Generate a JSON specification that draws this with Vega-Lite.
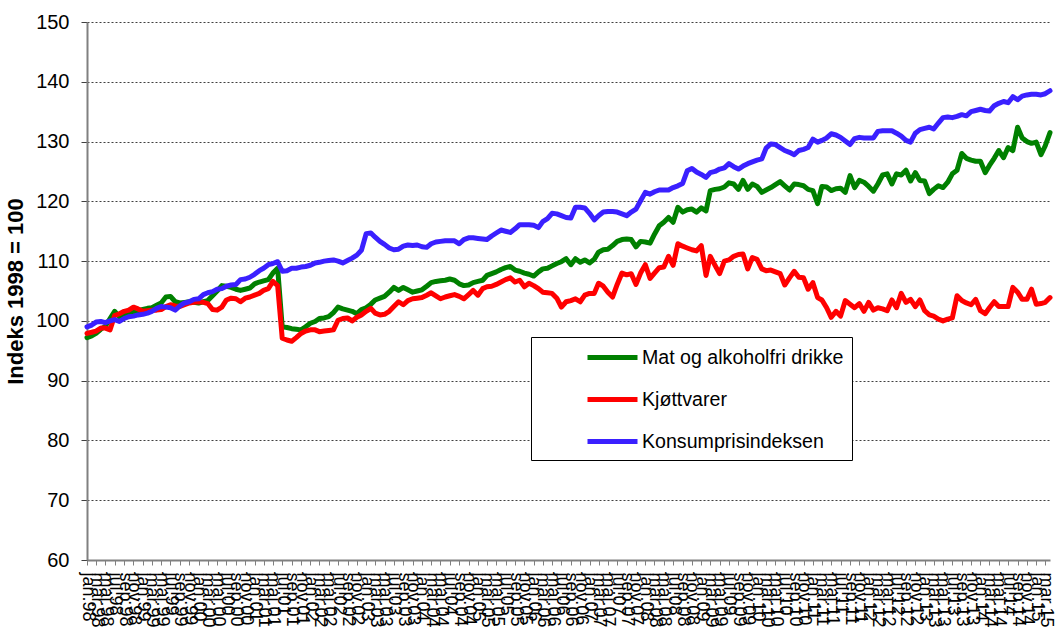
{
 "$schema": "https://vega.github.io/schema/vega-lite/v6.json",
 "width": 963, "height": 538,
 "autosize": "none",
 "padding": {"left": 87, "top": 22, "right": 6, "bottom": 79},
 "background": "white",
 "config": {"font": "Liberation Sans", "view": {"stroke": null}},
 "data": {"format": {"parse": {"d": "utc:'%Y-%m'"}}, "values": [
{"d":"1998-01","m":97.2,"k":97.9,"p":99.0},{"d":"1998-02","m":97.5,"k":98.1,"p":99.3},{"d":"1998-03","m":97.9,"k":98.3,"p":99.8},{"d":"1998-04","m":98.6,"k":98.8,"p":99.9},{"d":"1998-05","m":99.1,"k":98.8,"p":99.7},{"d":"1998-06","m":100.4,"k":98.5,"p":100.0},{"d":"1998-07","m":101.6,"k":100.9,"p":100.2},{"d":"1998-08","m":100.7,"k":101.2,"p":99.9},{"d":"1998-09","m":100.9,"k":101.6,"p":100.4},{"d":"1998-10","m":101.3,"k":101.8,"p":100.7},{"d":"1998-11","m":101.5,"k":102.3,"p":100.8},{"d":"1998-12","m":101.7,"k":102.0,"p":101.0},
{"d":"1999-01","m":101.9,"k":101.6,"p":101.1},{"d":"1999-02","m":102.1,"k":101.7,"p":101.3},{"d":"1999-03","m":102.2,"k":101.8,"p":101.6},{"d":"1999-04","m":102.6,"k":101.8,"p":102.1},{"d":"1999-05","m":103.0,"k":101.9,"p":102.4},{"d":"1999-06","m":104.0,"k":102.4,"p":102.3},{"d":"1999-07","m":104.1,"k":102.7,"p":102.2},{"d":"1999-08","m":103.2,"k":102.5,"p":101.8},{"d":"1999-09","m":103.0,"k":102.4,"p":102.5},{"d":"1999-10","m":103.1,"k":102.7,"p":103.0},{"d":"1999-11","m":103.2,"k":103.0,"p":103.2},{"d":"1999-12","m":103.1,"k":103.1,"p":103.6},
{"d":"2000-01","m":103.0,"k":103.2,"p":103.7},{"d":"2000-02","m":103.2,"k":103.1,"p":104.4},{"d":"2000-03","m":103.4,"k":102.9,"p":104.7},{"d":"2000-04","m":104.2,"k":101.9,"p":104.9},{"d":"2000-05","m":105.0,"k":101.8,"p":105.3},{"d":"2000-06","m":105.9,"k":102.3,"p":105.4},{"d":"2000-07","m":105.8,"k":103.5,"p":105.8},{"d":"2000-08","m":105.6,"k":103.8,"p":106.0},{"d":"2000-09","m":105.3,"k":103.7,"p":106.1},{"d":"2000-10","m":105.1,"k":103.2,"p":106.9},{"d":"2000-11","m":105.3,"k":103.8,"p":107.0},{"d":"2000-12","m":105.5,"k":104.0,"p":107.3},
{"d":"2001-01","m":106.2,"k":104.3,"p":107.8},{"d":"2001-02","m":106.5,"k":104.6,"p":108.4},{"d":"2001-03","m":106.7,"k":105.1,"p":108.8},{"d":"2001-04","m":106.9,"k":105.4,"p":109.4},{"d":"2001-05","m":108.0,"k":106.6,"p":109.6},{"d":"2001-06","m":108.8,"k":105.9,"p":109.9},{"d":"2001-07","m":99.0,"k":97.1,"p":108.3},{"d":"2001-08","m":98.9,"k":96.8,"p":108.4},{"d":"2001-09","m":98.7,"k":96.6,"p":108.8},{"d":"2001-10","m":98.6,"k":97.2,"p":108.8},{"d":"2001-11","m":98.5,"k":97.9,"p":109.0},{"d":"2001-12","m":99.0,"k":98.3,"p":109.1},
{"d":"2002-01","m":99.6,"k":98.5,"p":109.3},{"d":"2002-02","m":99.9,"k":98.5,"p":109.7},{"d":"2002-03","m":100.4,"k":98.2,"p":109.8},{"d":"2002-04","m":100.5,"k":98.3,"p":110.0},{"d":"2002-05","m":100.7,"k":98.4,"p":110.1},{"d":"2002-06","m":101.4,"k":98.5,"p":110.2},{"d":"2002-07","m":102.3,"k":100.1,"p":110.0},{"d":"2002-08","m":102.0,"k":100.4,"p":109.7},{"d":"2002-09","m":101.8,"k":100.5,"p":110.1},{"d":"2002-10","m":101.6,"k":100.0,"p":110.5},{"d":"2002-11","m":101.2,"k":100.6,"p":111.0},{"d":"2002-12","m":101.9,"k":101.0,"p":111.8},
{"d":"2003-01","m":102.2,"k":101.6,"p":114.6},{"d":"2003-02","m":102.8,"k":102.1,"p":114.7},{"d":"2003-03","m":103.5,"k":101.3,"p":114.0},{"d":"2003-04","m":103.8,"k":101.0,"p":113.3},{"d":"2003-05","m":104.1,"k":101.1,"p":112.8},{"d":"2003-06","m":104.8,"k":101.6,"p":112.2},{"d":"2003-07","m":105.6,"k":102.4,"p":111.9},{"d":"2003-08","m":105.1,"k":103.2,"p":112.0},{"d":"2003-09","m":105.6,"k":102.7,"p":112.5},{"d":"2003-10","m":105.2,"k":103.4,"p":112.7},{"d":"2003-11","m":104.8,"k":103.7,"p":112.6},{"d":"2003-12","m":105.0,"k":103.8,"p":112.7},
{"d":"2004-01","m":105.2,"k":103.9,"p":112.4},{"d":"2004-02","m":105.8,"k":104.3,"p":112.3},{"d":"2004-03","m":106.4,"k":104.7,"p":112.9},{"d":"2004-04","m":106.6,"k":104.2,"p":113.2},{"d":"2004-05","m":106.7,"k":103.7,"p":113.3},{"d":"2004-06","m":106.8,"k":104.0,"p":113.4},{"d":"2004-07","m":107.0,"k":104.2,"p":113.4},{"d":"2004-08","m":106.8,"k":104.4,"p":113.4},{"d":"2004-09","m":106.2,"k":104.1,"p":112.9},{"d":"2004-10","m":105.9,"k":103.7,"p":113.6},{"d":"2004-11","m":106.0,"k":104.4,"p":113.9},{"d":"2004-12","m":106.4,"k":105.1,"p":113.9},
{"d":"2005-01","m":106.6,"k":104.3,"p":113.8},{"d":"2005-02","m":106.8,"k":105.4,"p":113.7},{"d":"2005-03","m":107.6,"k":105.7,"p":113.6},{"d":"2005-04","m":107.9,"k":105.8,"p":114.2},{"d":"2005-05","m":108.2,"k":106.1,"p":114.7},{"d":"2005-06","m":108.6,"k":106.5,"p":115.2},{"d":"2005-07","m":108.9,"k":106.9,"p":115.0},{"d":"2005-08","m":109.1,"k":107.2,"p":114.8},{"d":"2005-09","m":108.5,"k":106.5,"p":115.4},{"d":"2005-10","m":108.3,"k":106.8,"p":116.1},{"d":"2005-11","m":108.0,"k":105.7,"p":116.1},{"d":"2005-12","m":107.8,"k":106.3,"p":116.1},
{"d":"2006-01","m":107.5,"k":105.9,"p":116.0},{"d":"2006-02","m":108.2,"k":105.4,"p":115.6},{"d":"2006-03","m":108.7,"k":104.8,"p":116.6},{"d":"2006-04","m":108.8,"k":104.7,"p":117.1},{"d":"2006-05","m":109.2,"k":104.6,"p":118.0},{"d":"2006-06","m":109.6,"k":103.8,"p":117.9},{"d":"2006-07","m":109.9,"k":102.3,"p":117.6},{"d":"2006-08","m":110.4,"k":103.2,"p":117.3},{"d":"2006-09","m":109.4,"k":103.4,"p":117.2},{"d":"2006-10","m":110.4,"k":103.7,"p":119.0},{"d":"2006-11","m":109.8,"k":103.2,"p":119.0},{"d":"2006-12","m":110.2,"k":104.3,"p":118.9},
{"d":"2007-01","m":109.7,"k":104.6,"p":118.0},{"d":"2007-02","m":110.3,"k":104.6,"p":116.9},{"d":"2007-03","m":111.5,"k":106.3,"p":117.6},{"d":"2007-04","m":111.9,"k":105.8,"p":118.2},{"d":"2007-05","m":112.0,"k":104.8,"p":118.3},{"d":"2007-06","m":112.6,"k":104.0,"p":118.3},{"d":"2007-07","m":113.3,"k":106.1,"p":118.2},{"d":"2007-08","m":113.6,"k":108.0,"p":117.9},{"d":"2007-09","m":113.7,"k":107.7,"p":117.6},{"d":"2007-10","m":113.6,"k":107.9,"p":118.2},{"d":"2007-11","m":112.4,"k":106.1,"p":118.7},{"d":"2007-12","m":113.3,"k":108.0,"p":120.1},
{"d":"2008-01","m":113.2,"k":109.4,"p":121.5},{"d":"2008-02","m":113.0,"k":107.1,"p":121.2},{"d":"2008-03","m":114.5,"k":108.0,"p":121.6},{"d":"2008-04","m":115.9,"k":108.9,"p":121.9},{"d":"2008-05","m":116.5,"k":109.0,"p":121.9},{"d":"2008-06","m":117.3,"k":110.8,"p":121.9},{"d":"2008-07","m":116.5,"k":109.3,"p":122.3},{"d":"2008-08","m":119.0,"k":112.9,"p":122.6},{"d":"2008-09","m":118.2,"k":112.5,"p":123.0},{"d":"2008-10","m":118.6,"k":112.2,"p":125.1},{"d":"2008-11","m":118.7,"k":111.9,"p":125.5},{"d":"2008-12","m":118.2,"k":111.7,"p":124.9},
{"d":"2009-01","m":118.9,"k":112.6,"p":124.5},{"d":"2009-02","m":118.4,"k":107.6,"p":124.0},{"d":"2009-03","m":121.8,"k":110.8,"p":124.8},{"d":"2009-04","m":122.0,"k":109.3,"p":125.0},{"d":"2009-05","m":122.1,"k":107.9,"p":125.4},{"d":"2009-06","m":122.4,"k":110.0,"p":125.6},{"d":"2009-07","m":123.1,"k":110.2,"p":126.3},{"d":"2009-08","m":122.9,"k":110.8,"p":125.8},{"d":"2009-09","m":122.0,"k":111.1,"p":125.4},{"d":"2009-10","m":123.5,"k":111.2,"p":125.9},{"d":"2009-11","m":122.0,"k":108.7,"p":126.3},{"d":"2009-12","m":122.9,"k":110.6,"p":126.6},
{"d":"2010-01","m":122.5,"k":110.3,"p":126.9},{"d":"2010-02","m":121.5,"k":108.7,"p":127.1},{"d":"2010-03","m":121.9,"k":108.4,"p":128.9},{"d":"2010-04","m":122.3,"k":108.5,"p":129.6},{"d":"2010-05","m":122.8,"k":108.2,"p":129.5},{"d":"2010-06","m":123.3,"k":107.9,"p":129.0},{"d":"2010-07","m":122.6,"k":106.0,"p":128.5},{"d":"2010-08","m":121.9,"k":107.2,"p":128.2},{"d":"2010-09","m":122.9,"k":108.3,"p":127.8},{"d":"2010-10","m":122.8,"k":107.3,"p":128.5},{"d":"2010-11","m":122.6,"k":107.2,"p":128.7},{"d":"2010-12","m":122.0,"k":105.3,"p":129.0},
{"d":"2011-01","m":121.8,"k":106.4,"p":130.4},{"d":"2011-02","m":119.6,"k":103.9,"p":129.9},{"d":"2011-03","m":122.5,"k":103.5,"p":130.2},{"d":"2011-04","m":122.4,"k":102.2,"p":130.6},{"d":"2011-05","m":121.8,"k":100.6,"p":131.3},{"d":"2011-06","m":122.1,"k":101.6,"p":131.1},{"d":"2011-07","m":122.2,"k":100.8,"p":130.7},{"d":"2011-08","m":121.5,"k":103.4,"p":130.1},{"d":"2011-09","m":124.3,"k":102.8,"p":129.5},{"d":"2011-10","m":122.3,"k":102.2,"p":130.5},{"d":"2011-11","m":123.5,"k":102.9,"p":130.7},{"d":"2011-12","m":123.2,"k":101.6,"p":130.6},
{"d":"2012-01","m":122.5,"k":103.1,"p":130.6},{"d":"2012-02","m":121.7,"k":101.8,"p":130.6},{"d":"2012-03","m":122.9,"k":102.2,"p":131.7},{"d":"2012-04","m":124.4,"k":102.0,"p":131.8},{"d":"2012-05","m":124.6,"k":101.7,"p":131.8},{"d":"2012-06","m":122.9,"k":103.5,"p":131.8},{"d":"2012-07","m":124.6,"k":102.2,"p":131.4},{"d":"2012-08","m":124.4,"k":104.6,"p":130.9},{"d":"2012-09","m":125.2,"k":103.1,"p":130.2},{"d":"2012-10","m":123.4,"k":103.6,"p":129.9},{"d":"2012-11","m":124.8,"k":102.4,"p":131.4},{"d":"2012-12","m":123.5,"k":103.5,"p":132.0},
{"d":"2013-01","m":123.4,"k":101.7,"p":132.2},{"d":"2013-02","m":121.3,"k":101.0,"p":132.4},{"d":"2013-03","m":122.0,"k":100.8,"p":132.1},{"d":"2013-04","m":122.6,"k":100.3,"p":133.1},{"d":"2013-05","m":122.3,"k":100.0,"p":134.0},{"d":"2013-06","m":123.2,"k":100.3,"p":134.1},{"d":"2013-07","m":124.6,"k":100.5,"p":134.0},{"d":"2013-08","m":125.2,"k":104.2,"p":134.2},{"d":"2013-09","m":128.0,"k":103.4,"p":134.5},{"d":"2013-10","m":127.2,"k":103.0,"p":134.3},{"d":"2013-11","m":126.9,"k":102.7,"p":135.0},{"d":"2013-12","m":126.7,"k":103.6,"p":135.2},
{"d":"2014-01","m":126.7,"k":101.7,"p":135.4},{"d":"2014-02","m":124.8,"k":101.2,"p":135.2},{"d":"2014-03","m":126.0,"k":102.2,"p":135.1},{"d":"2014-04","m":127.2,"k":103.2,"p":136.0},{"d":"2014-05","m":128.5,"k":102.4,"p":136.4},{"d":"2014-06","m":127.3,"k":102.4,"p":136.7},{"d":"2014-07","m":129.0,"k":102.4,"p":136.5},{"d":"2014-08","m":128.5,"k":105.6,"p":137.5},{"d":"2014-09","m":132.4,"k":104.8,"p":137.0},{"d":"2014-10","m":130.6,"k":103.6,"p":137.6},{"d":"2014-11","m":130.0,"k":103.6,"p":137.8},{"d":"2014-12","m":129.7,"k":105.3,"p":137.9},
{"d":"2015-01","m":129.9,"k":102.8,"p":137.9},{"d":"2015-02","m":127.8,"k":102.9,"p":137.8},{"d":"2015-03","m":129.3,"k":103.1,"p":138.0},{"d":"2015-04","m":131.5,"k":103.9,"p":138.5}
 ]},
 "transform": [{"fold": ["m", "k", "p"], "as": ["s", "v"]}],
 "mark": {"type": "line", "strokeWidth": 5, "strokeJoin": "round", "strokeCap": "round"},
 "encoding": {
  "x": {"field": "d", "type": "temporal",
   "scale": {"type": "utc", "domain": [{"year": 1998, "month": 1, "date": 1, "utc": true}, {"year": 2015, "month": 4, "date": 1, "utc": true}]},
   "axis": {"title": null, "tickCount": {"interval": "month", "step": 2},
    "labelExpr": "['jan','feb','mar','apr','mai','jun','jul','aug','sep','okt','nov','des'][utcmonth(datum.value)] + '.' + utcFormat(datum.value, '%y')",
    "labelAngle": 90, "labelAlign": "left", "labelBaseline": "middle", "labelFontSize": 18, "labelColor": "black",
    "labelOverlap": false, "labelFlush": false, "labelBound": false, "labelPadding": 7,
    "grid": false, "domainColor": "#808080", "domainWidth": 2, "tickColor": "#808080", "tickSize": 5}},
  "y": {"field": "v", "type": "quantitative",
   "scale": {"domain": [60, 150], "nice": false, "zero": false},
   "axis": {"values": [60, 70, 80, 90, 100, 110, 120, 130, 140, 150], "title": "Indeks 1998 = 100",
    "titleFontSize": 22, "titleFontWeight": "bold", "titleColor": "black", "titlePadding": 8,
    "labelFontSize": 20, "labelColor": "black", "labelPadding": 12, "tickSize": 6, "tickColor": "#404040",
    "domainColor": "#808080", "domainWidth": 2,
    "grid": true, "gridDash": [2, 2], "gridColor": "#404040", "gridWidth": 1}},
  "color": {"field": "s", "type": "nominal",
   "scale": {"domain": ["m", "k", "p"], "range": ["#008000", "#FF0000", "#3A20FF"]},
   "legend": {"orient": "none", "legendX": 444, "legendY": 315, "title": null, "direction": "vertical",
    "symbolType": "M-2.5,0H2.5", "symbolSize": 400, "symbolStrokeWidth": 5,
    "labelFontSize": 19.6, "labelColor": "black", "labelLimit": 400, "labelOffset": 17,
    "strokeColor": "black", "fillColor": "white", "padding": 8, "symbolOffset": 61, "rowPadding": 19,
    "labelExpr": "datum.label == 'm' ? 'Mat og alkoholfri drikke' : datum.label == 'k' ? 'Kjøttvarer' : 'Konsumprisindeksen'"}}
 }
}
